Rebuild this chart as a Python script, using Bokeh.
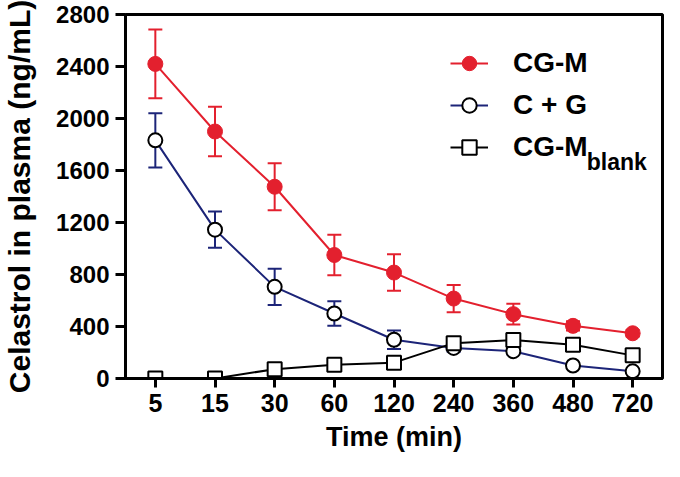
from bokeh.plotting import figure
from bokeh.models import (ColumnDataSource, FactorRange, Range1d, Whisker, TeeHead,
                          Legend, LegendItem, Label, SingleIntervalTicker)
from bokeh.embed import file_html
from bokeh.resources import INLINE

times = ["5", "15", "30", "60", "120", "240", "360", "480", "720"]
cgm = [2420, 1900, 1475, 950, 815, 615, 495, 405, 348]
cgm_sd = [265, 190, 180, 155, 140, 105, 80, 35, 25]
cg = [1832, 1145, 705, 500, 298, 235, 210, 100, 55]
cg_sd = [208, 140, 140, 95, 72, 30, 25, 15, 10]
blank = [0, 0, 72, 105, 122, 272, 296, 260, 178]

RED = "#e3202e"
NAVY = "#1c2478"
FONT = "Liberation Sans"

src = ColumnDataSource(dict(
    t=times, cgm=cgm, cg=cg, blank=blank,
    cgm_lo=[v - s for v, s in zip(cgm, cgm_sd)], cgm_hi=[v + s for v, s in zip(cgm, cgm_sd)],
    cg_lo=[v - s for v, s in zip(cg, cg_sd)], cg_hi=[v + s for v, s in zip(cg, cg_sd)],
))

p = figure(width=664, height=461, x_range=FactorRange(*times, range_padding=0),
           y_range=Range1d(0, 2800), output_backend="svg", toolbar_location=None,
           min_border_left=122, min_border_right=2, min_border_top=14, min_border_bottom=83)
p.x_range.factor_padding = 0
p.grid.visible = False
p.outline_line_color = "black"
p.outline_line_width = 3
p.background_fill_color = "white"

for ax in (p.xaxis[0], p.yaxis[0]):
    ax.axis_line_width = 3
    ax.major_tick_line_width = 3
    ax.major_tick_in = 0
    ax.minor_tick_line_color = None
    ax.major_label_text_font = FONT
    ax.major_label_text_font_style = "bold"
    ax.major_label_text_color = "black"
    ax.axis_label_text_font = FONT
    ax.axis_label_text_font_style = "bold"
    ax.axis_label_text_color = "black"

p.xaxis.major_tick_out = 9
p.xaxis.major_label_standoff = 6
p.xaxis.major_label_text_font_size = "25px"
p.xaxis.axis_label = "Time (min)"
p.xaxis.axis_label_text_font_size = "27px"
p.xaxis.axis_label_standoff = 7

p.yaxis.ticker = SingleIntervalTicker(interval=400)
p.yaxis.major_tick_out = 10
p.yaxis.major_label_standoff = 6
p.yaxis.major_label_text_font_size = "24px"
p.yaxis.axis_label = "Celastrol in plasma (ng/mL)"
p.yaxis.axis_label_text_font_size = "30px"
p.yaxis.axis_label_standoff = 17

# error bars
w1 = Whisker(base="t", lower="cgm_lo", upper="cgm_hi", source=src, line_color=RED, line_width=2,
             upper_head=TeeHead(size=14, line_color=RED, line_width=2),
             lower_head=TeeHead(size=14, line_color=RED, line_width=2), level="underlay")
w2 = Whisker(base="t", lower="cg_lo", upper="cg_hi", source=src, line_color=NAVY, line_width=2,
             upper_head=TeeHead(size=14, line_color=NAVY, line_width=2),
             lower_head=TeeHead(size=14, line_color=NAVY, line_width=2), level="underlay")
p.add_layout(w1)
p.add_layout(w2)

l1 = p.line("t", "cgm", source=src, line_color=RED, line_width=2)
l2 = p.line("t", "cg", source=src, line_color=NAVY, line_width=2)
l3 = p.line("t", "blank", source=src, line_color="black", line_width=2)
m2 = p.scatter("t", "cg", source=src, marker="circle", size=14, fill_color="white",
               line_color="black", line_width=2)
m3 = p.scatter("t", "blank", source=src, marker="square", size=14, fill_color="white",
               line_color="black", line_width=2)
m1 = p.scatter("t", "cgm", source=src, marker="circle", size=15, fill_color=RED,
               line_color=RED, line_width=1)

legend = Legend(items=[
    LegendItem(label="CG-M", renderers=[l1, m1]),
    LegendItem(label="C + G", renderers=[l2, m2]),
    LegendItem(label="CG-M", renderers=[l3, m3]),
], location=(325, 210), padding=0, margin=0, spacing=0,
    glyph_width=38, glyph_height=36, label_height=42, label_standoff=25,
    border_line_alpha=0, background_fill_alpha=0,
    label_text_font=FONT, label_text_font_style="bold", label_text_font_size="28px",
    label_text_color="black")
p.add_layout(legend)

sub = Label(x=7.73, y=1662, x_units="data", y_units="data", text="blank",
            text_font=FONT, text_font_style="bold", text_font_size="23px",
            text_baseline="alphabetic", text_color="black")
p.add_layout(sub)

open("out.html", "w").write(file_html(p, INLINE))
